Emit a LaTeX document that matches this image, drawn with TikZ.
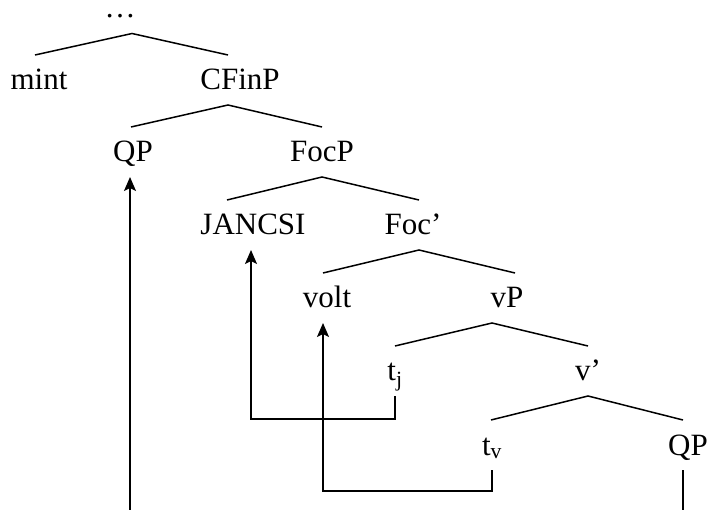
\documentclass[tikz,border=0pt]{standalone}
\usepackage{fontspec}
\setmainfont{Liberation Serif}
\usetikzlibrary{arrows.meta}

\begin{document}
\begin{tikzpicture}[
	x=1pt, y=-1pt,
	cat/.style={inner sep=0pt, outer ysep=15pt, text height=20pt, text depth=0pt, font=\fontsize{31}{35}\selectfont},
	branch/.style={line width=1.5pt},
	move/.style={line width=1.7pt, -{Stealth[length=14pt,width=12pt,inset=3pt]}}
]
\useasboundingbox (0,0) rectangle (712,510);

% tree nodes
\node[cat, anchor=base, text height=0pt, outer ysep=15pt] (dots) at (120,18) {…};

\node[cat] (mint)   at (39,80)  {mint};
\node[cat] (cfinp)  at (240,80) {CFinP};

\node[cat] (qp)     at (133,152) {QP};
\node[cat] (focp)   at (322,152) {FocP};

\node[cat] (jancsi) at (253,225) {JANCSI};
\node[cat] (focbar) at (413,225) {Foc’};

\node[cat] (volt)   at (327,298) {volt};
\node[cat] (vp)     at (507,298) {vP};

\node[cat] (tj)     at (395,371) {t$_{\mathrm{j}}$};
\node[cat] (vbar)   at (588,371) {v’};

\node[cat] (tv)     at (492,445) {t$_{\mathrm{v}}$};
\node[cat] (qpb)    at (688,445) {QP};

% branches
\draw[branch] ([xshift=-4pt]mint.north) -- ([xshift=12pt]dots.south) -- ([xshift=-12pt]cfinp.north);
\draw[branch] ([xshift=-2pt]qp.north) -- ([xshift=-12pt]cfinp.south) -- (focp.north);
\draw[branch] ([xshift=-26pt]jancsi.north) -- (focp.south) -- ([xshift=6pt]focbar.north);
\draw[branch] ([xshift=-4pt]volt.north) -- ([xshift=6pt]focbar.south) -- ([xshift=8pt]vp.north);
\draw[branch] (tj.north) -- ([xshift=-15pt]vp.south) -- (vbar.north);
\draw[branch] ([xshift=-1pt]tv.north) -- (vbar.south) -- ([xshift=-5pt]qpb.north);

% movement
\draw[move] (tj.south) -- ++(0,23) -| ([xshift=-2pt]jancsi.south);
\draw[move] (tv.south) -- ++(0,21) -| ([xshift=-4pt]volt.south);
\draw[move] ([xshift=-5pt]qpb.south) -- ++(0,60) -| ([xshift=-3pt]qp.south);
\end{tikzpicture}
\end{document}
